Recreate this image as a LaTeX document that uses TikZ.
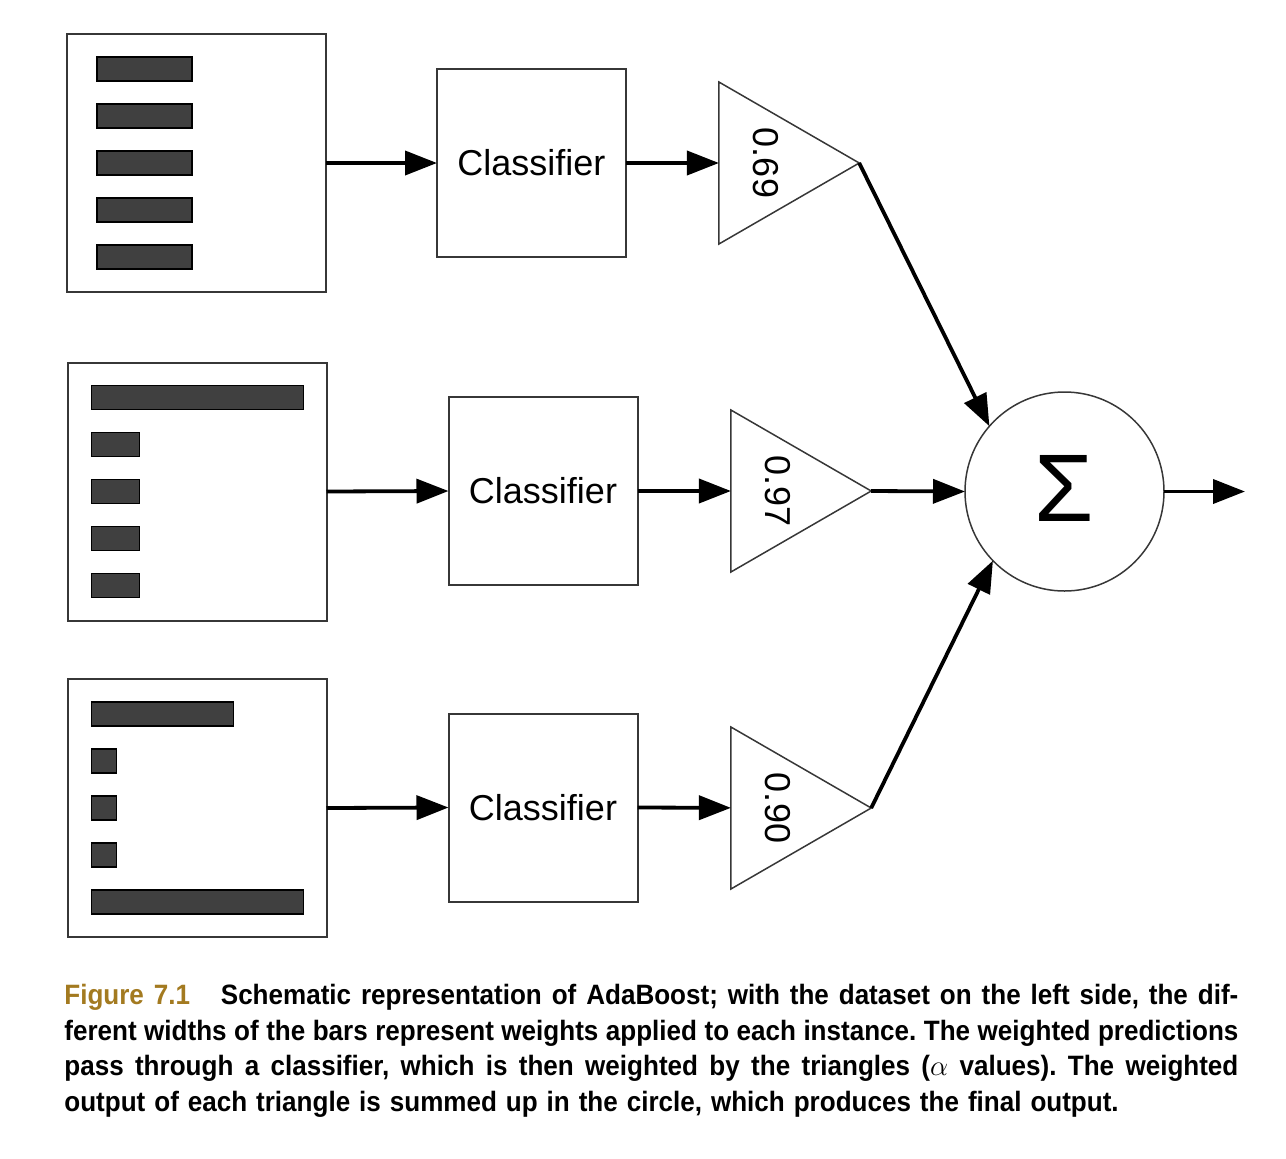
\documentclass[tikz,border=0pt]{standalone}
\usepackage{fontspec}
\setmainfont{Liberation Sans}
\newfontfamily\capfont[FakeStretch=0.93]{Liberation Sans}
\usetikzlibrary{arrows.meta,shapes.geometric,calc}
\definecolor{figgold}{RGB}{163,122,32}
\definecolor{bargray}{RGB}{64,64,64}
\definecolor{edgegray}{RGB}{55,55,55}
\newcommand\capstyle{\capfont\bfseries\fontsize{14}{17.75}\selectfont\frenchspacing
  \spaceskip=0.32em plus 0.3em minus 0.1em\relax}
\tikzset{
  databox/.style={draw=edgegray,line width=1pt,minimum width=129.5pt,minimum height=129pt,inner sep=0pt,outer sep=0pt},
  classbox/.style={draw=edgegray,line width=1pt,minimum width=94.5pt,minimum height=94pt,inner sep=0pt,outer sep=0pt,font=\fontsize{18}{20}\selectfont},
  weight/.style={draw=edgegray,line width=0.75pt,regular polygon,regular polygon sides=3,shape border rotate=-90,minimum size=93.5pt,inner sep=0pt,outer sep=0pt},
  wlabel/.style={inner sep=0pt,font=\fontsize{18}{20}\selectfont,rotate=-90},
  sumnode/.style={draw=edgegray,line width=0.75pt,circle,minimum size=99.5pt,inner sep=0pt,outer sep=0pt,font=\fontsize{48}{48}\selectfont},
  flow/.style={-{Triangle[length=16pt,width=12pt]},line width=1.9pt},
  bar/.style={fill=bargray,draw=black,line width=0.6pt}
}
\newcommand\weightbars[3]{%
  \foreach \w [count=\i] in {#3}
    \draw[bar] ($(#1.west)+(#2,{(\i-3)*47-12})$) rectangle ++(\w,24);
}
\begin{document}
\begin{tikzpicture}[x=0.5pt,y=-0.5pt]
\useasboundingbox (0,0) rectangle (1286,1158);
\node[databox] (data1) at (196.5,163) {};
\node[databox] (data2) at (197,491.5) {};
\node[databox] (data3) at (197,808) {};
\weightbars{data1}{30}{95,95,95,95,95}
\weightbars{data2}{24}{212,48,48,48,48}
\weightbars{data3}{24}{142,25,25,25,212}
\node[classbox] (class1) at (531.5,163) {Classifier};
\node[classbox] (class2) at (543,491) {Classifier};
\node[classbox] (class3) at (543,807.5) {Classifier};
\node[weight] (alpha1) at (765.7,163) {};
\node[weight] (alpha2) at (777.7,491) {};
\node[weight] (alpha3) at (777.7,808) {};
\node[wlabel] at (alpha1) {0.69};
\node[wlabel] at (alpha2) {0.97};
\node[wlabel] at (alpha3) {0.90};
\node[sumnode] (sum) at (1064.5,491.5) {\raisebox{3pt}{Σ}};
\coordinate (out) at (1245,491.5);
\draw[flow] (data1.east) -- (class1.west);
\draw[flow] (data2.east) -- (class2.west);
\draw[flow] (data3.east) -- (class3.west);
\draw[flow] (class1.east) -- (alpha1);
\draw[flow] (class2.east) -- (alpha2);
\draw[flow] (class3.east) -- (alpha3);
\draw[flow] (alpha1.corner 1) -- (sum.139);
\draw[flow] (alpha2.corner 1) -- (sum.west);
\draw[flow] (alpha3.corner 1) -- (sum.224);
\draw[flow] (sum.east) -- (out);
\node[anchor=north west,text width=587pt,align=justify,inner sep=0pt,font=\capstyle] (caption) at (64,984)
  {\textcolor{figgold}{Figure 7.1}\hspace{1.1em}Schematic representation of AdaBoost; with the dataset on the left side, the dif-\linebreak
   ferent widths of the bars represent weights applied to each instance. The weighted predictions\linebreak
   pass through a classifier, which is then weighted by the triangles ($\alpha$ values). The weighted\linebreak
   output of each triangle is summed up in the circle, which produces the final output.};
\end{tikzpicture}
\end{document}
